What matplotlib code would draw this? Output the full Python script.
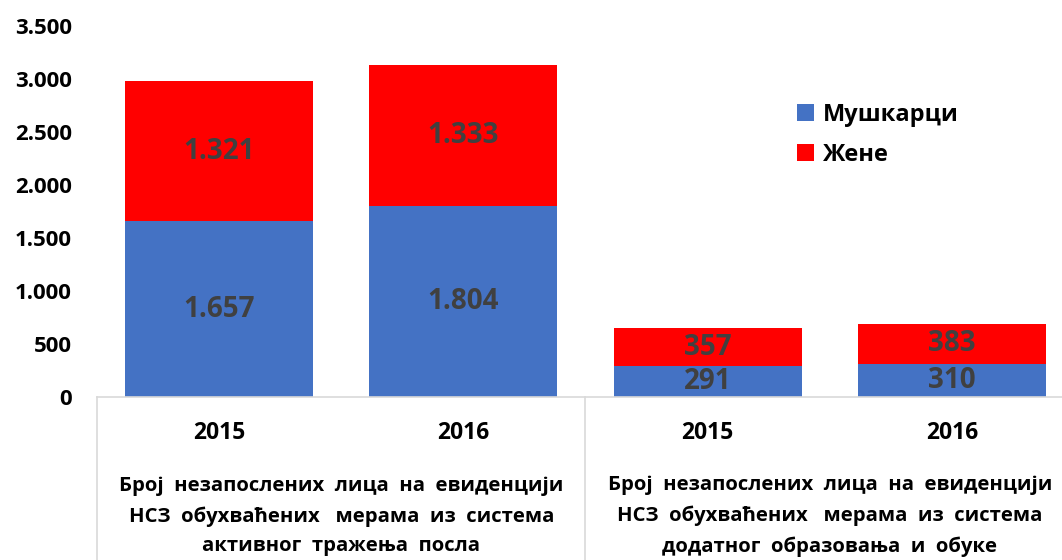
"""
Stacked bars: unemployed persons covered by NSZ measures, by sex
"""
import matplotlib
matplotlib.use('Agg')
import matplotlib.pyplot as plt
from matplotlib.lines import Line2D

plt.rcParams['font.family'] = ['Open Sans', 'DejaVu Sans']
plt.rcParams['font.weight'] = 'bold'

# data
years = ['2015', '2016', '2015', '2016']
men = [1657, 1804, 291, 310]
women = [1321, 1333, 357, 383]
series_names = ['Мушкарци', 'Жене']
group_labels = [
    'Број  незапослених  лица  на  евиденцији\n'
    'НСЗ  обухваћених   мерама  из  система\n'
    'активног  тражења  посла',
    'Број  незапослених  лица  на  евиденцији\n'
    'НСЗ  обухваћених   мерама  из  система\n'
    'додатног  образовања  и  обуке',
]
y_ticks = [0, 500, 1000, 1500, 2000, 2500, 3000, 3500]

BLUE = '#4472C4'
RED = '#FF0000'
LABEL_COLOR = '#404040'
GRID_GRAY = '#D9D9D9'


def fmt(v):
    return f'{v:,}'.replace(',', '.')


def main():
    fig = plt.figure(figsize=(10.62, 5.60), dpi=100)
    ax = fig.add_axes([0.0913, 0.291, 0.920, 0.6625])

    x = list(range(len(years)))
    width = 0.77
    b1 = ax.bar(x, men, width, color=BLUE, label=series_names[0])
    b2 = ax.bar(x, women, width, bottom=men, color=RED, label=series_names[1])

    # values inside the segments
    for bars, vals, bottoms in [(b1, men, [0] * 4), (b2, women, men)]:
        for bar, v, b in zip(bars, vals, bottoms):
            ax.text(bar.get_x() + bar.get_width() / 2, b + v / 2, fmt(v),
                    ha='center', va='center', fontsize=20,
                    color=LABEL_COLOR, fontweight='bold')

    ax.set_xlim(-0.5, 3.5)
    ax.set_ylim(0, 3500)
    ax.set_yticks(y_ticks)
    ax.set_yticklabels([fmt(t) for t in y_ticks], fontsize=16, fontweight='bold')
    ax.tick_params(axis='y', length=0, pad=18)
    ax.set_xticks([])
    for side in ['top', 'right', 'left']:
        ax.spines[side].set_visible(False)
    ax.spines['bottom'].set_color(GRID_GRAY)
    ax.spines['bottom'].set_linewidth(1.2)

    # multi-level category labels under the axis
    tr = ax.get_xaxis_transform()
    for xi, yr in zip(x, years):
        ax.text(xi, -0.097, yr, transform=tr, ha='center', va='center',
                fontsize=16.5, fontweight='bold', color='black')
    for gi, lab in enumerate(group_labels):
        ax.text(2 * gi + 0.5, -0.321, lab, transform=tr, ha='center', va='center',
                fontsize=14.6, fontweight='bold', linespacing=1.66, color='black')
    for xb in [-0.5, 1.5, 3.5]:
        ax.add_line(Line2D([xb, xb], [0, -0.5], transform=tr, color=GRID_GRAY,
                           linewidth=1.2, clip_on=False))

    leg = ax.legend(loc='upper left', bbox_to_anchor=(0.7305, 0.854),
                    bbox_transform=fig.transFigure, frameon=False,
                    fontsize=17, handlelength=0.7, handleheight=0.7,
                    handletextpad=0.4, labelspacing=0.66)
    for t in leg.get_texts():
        t.set_fontweight('bold')

    plt.savefig('out.png', dpi=100)
    plt.close()
    print('saved out.png')


if __name__ == '__main__':
    main()
